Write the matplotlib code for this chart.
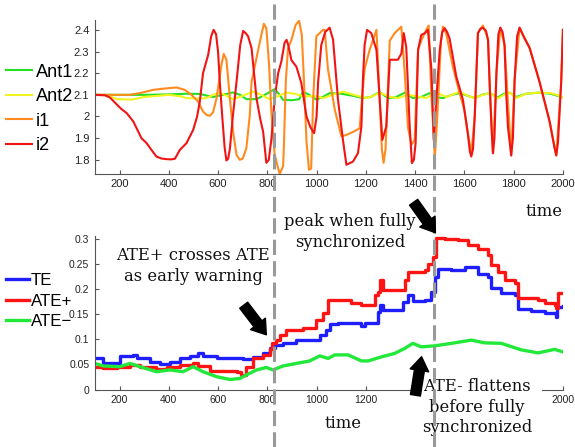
import matplotlib
matplotlib.use('agg')
import matplotlib.pyplot as plt
import matplotlib.ticker as mticker
import matplotlib.transforms as mtransforms
from matplotlib.lines import Line2D
from matplotlib.patches import FancyArrowPatch

plt.rcParams['font.family'] = ['Liberation Sans', 'DejaVu Sans']

# ---- top panel: oscillator signals ----
t_i2 = [100, 140, 161, 185, 208, 229, 256, 289, 310, 330, 350, 370, 391, 410, 425, 445, 472, 499,
        515, 526, 539, 560, 572, 582, 592, 600, 607, 617, 627, 634, 641, 648, 660, 675, 690, 702,
        712, 722, 736, 756, 771, 783, 796, 806, 817, 830, 844, 857, 870, 878, 885, 898, 918, 938,
        959, 975, 990, 1000, 1006, 1019, 1035, 1053, 1067, 1087, 1107, 1121, 1135, 1148, 1168,
        1182, 1188, 1195, 1205, 1222, 1243, 1256, 1267, 1283, 1297, 1330, 1344, 1354, 1364, 1378,
        1387, 1395, 1402, 1412, 1425, 1440, 1452, 1466, 1476, 1486, 1500, 1510, 1520, 1530, 1540,
        1567, 1594, 1614, 1622, 1628, 1635, 1642, 1655, 1665, 1675, 1688, 1696, 1703, 1710, 1716,
        1722, 1730, 1738, 1746, 1755, 1763, 1770, 1777, 1790, 1797, 1804, 1814, 1824, 1840, 1865,
        1905, 1946, 1965, 1973, 1980, 1993, 2000]
i2 = [2.100, 2.098, 2.088, 2.060, 2.034, 2.016, 1.977, 1.900, 1.877, 1.845, 1.815, 1.806, 1.803,
      1.802, 1.805, 1.846, 1.877, 1.938, 2.000, 2.069, 2.200, 2.285, 2.370, 2.400, 2.380, 2.300,
      2.160, 2.000, 1.854, 1.797, 1.805, 1.850, 2.000, 2.160, 2.330, 2.395, 2.385, 2.370, 2.316,
      2.085, 1.990, 1.930, 1.786, 1.800, 1.900, 2.085, 2.200, 2.254, 2.340, 2.354, 2.330, 2.260,
      2.230, 2.155, 2.000, 1.950, 1.923, 2.000, 2.155, 2.330, 2.390, 2.410, 2.354, 2.077, 1.892,
      1.777, 1.785, 1.792, 1.831, 1.954, 2.170, 2.330, 2.400, 2.385, 2.308, 2.080, 1.892, 1.954,
      2.262, 2.262, 2.290, 2.385, 2.320, 1.954, 1.785, 1.800, 1.877, 2.308, 2.377, 2.385, 2.400,
      2.220, 1.892, 2.080, 2.308, 2.390, 2.408, 2.390, 2.360, 2.185, 2.077, 1.923, 1.840, 1.815,
      1.850, 2.000, 2.385, 2.405, 2.410, 2.395, 2.350, 2.138, 1.950, 1.830, 1.900, 2.200, 2.380,
      2.410, 2.390, 2.330, 2.100, 1.950, 1.820, 1.900, 2.170, 2.370, 2.410, 2.370, 2.316, 2.160,
      1.977, 1.860, 1.820, 1.880, 2.160, 2.400]

t_i1 = [100, 200, 242, 283, 337, 391, 431, 465, 492, 519, 539, 555, 567, 580, 594, 614, 623, 634,
        648, 661, 675, 688, 700, 715, 729, 736, 756, 776, 786, 796, 807, 817, 830, 850, 864, 867,
        875, 884, 898, 915, 929, 940, 949, 959, 969, 978, 986, 999, 1026, 1033, 1046, 1074, 1101,
        1121, 1150, 1175, 1182, 1195, 1216, 1243, 1256, 1265, 1272, 1280, 1297, 1317, 1344, 1358,
        1371, 1385, 1398, 1412, 1425, 1445, 1455, 1466, 1480, 1490, 1505, 1513, 1527, 1553, 1580,
        1600, 1614, 1628, 1642, 1655, 1675, 1696, 1703, 1716, 1730, 1746, 1763, 1790, 1804, 1824,
        1865, 1905, 1946, 1973, 1993, 2000]
i1 = [2.100, 2.100, 2.100, 2.108, 2.123, 2.130, 2.134, 2.123, 2.100, 2.069, 2.023, 2.006, 2.003,
      2.020, 2.085, 2.240, 2.289, 2.262, 2.085, 1.930, 1.823, 1.800, 1.805, 1.854, 2.008, 2.160,
      2.270, 2.377, 2.428, 2.408, 2.240, 2.008, 1.823, 1.735, 1.770, 1.854, 2.160, 2.316, 2.354,
      2.423, 2.442, 2.377, 2.160, 1.885, 1.754, 1.760, 2.077, 2.370, 2.400, 2.400, 2.220, 2.031,
      1.908, 1.915, 1.930, 1.946, 2.050, 2.220, 2.310, 2.400, 2.080, 1.850, 1.786, 1.850, 2.350,
      2.385, 2.415, 2.200, 1.950, 1.869, 1.892, 2.310, 2.350, 2.400, 2.420, 2.100, 1.808, 2.000,
      2.350, 2.415, 2.380, 2.230, 2.110, 2.030, 1.920, 1.830, 2.000, 2.385, 2.420, 2.360, 2.138,
      1.830, 2.200, 2.410, 2.330, 1.820, 2.170, 2.410, 2.316, 2.160, 1.977, 1.820, 2.160, 2.400]

t_ant1 = [100, 200, 300, 400, 470, 526, 560, 580, 620, 660, 690, 715, 756, 790, 830, 850, 864, 900,
          930, 945, 970, 999, 1025, 1053, 1100, 1150, 1188, 1220, 1256, 1290, 1320, 1358, 1391,
          1425, 1459, 1480, 1513, 1550, 1581, 1615, 1642, 1670, 1703, 1736, 1760, 1784, 1811,
          1850, 1900, 1950, 1980, 2000]
ant1 = [2.100, 2.100, 2.100, 2.102, 2.105, 2.104, 2.095, 2.090, 2.100, 2.111, 2.100, 2.080, 2.080,
        2.100, 2.126, 2.100, 2.077, 2.075, 2.080, 2.115, 2.100, 2.078, 2.090, 2.108, 2.105, 2.095,
        2.085, 2.090, 2.113, 2.085, 2.088, 2.110, 2.085, 2.090, 2.108, 2.090, 2.085, 2.100, 2.108,
        2.095, 2.085, 2.100, 2.108, 2.088, 2.105, 2.110, 2.090, 2.105, 2.110, 2.105, 2.095, 2.088]

t_ant2 = [100, 150, 190, 250, 300, 350, 400, 450, 472, 520, 553, 580, 607, 635, 660, 700, 742, 775,
          810, 845, 878, 910, 952, 990, 1026, 1065, 1107, 1150, 1202, 1230, 1256, 1300, 1330, 1370,
          1400, 1445, 1486, 1527, 1560, 1581, 1615, 1642, 1675, 1703, 1736, 1760, 1784, 1811, 1850,
          1900, 1950, 1980, 2000]
ant2 = [2.100, 2.098, 2.080, 2.078, 2.090, 2.095, 2.100, 2.093, 2.085, 2.083, 2.085, 2.100, 2.111,
        2.095, 2.080, 2.095, 2.115, 2.100, 2.080, 2.095, 2.110, 2.105, 2.092, 2.095, 2.085, 2.100,
        2.115, 2.100, 2.085, 2.095, 2.110, 2.090, 2.085, 2.100, 2.095, 2.085, 2.110, 2.090, 2.105,
        2.115, 2.095, 2.085, 2.100, 2.108, 2.083, 2.100, 2.110, 2.085, 2.105, 2.110, 2.108, 2.098,
        2.088]

# ---- bottom panel: transfer entropy ----
t_te = [100, 134, 174, 201, 256, 269, 323, 364, 404, 445, 485, 519, 539, 594, 648, 702, 742, 783,
        810, 830, 864, 918, 972, 1013, 1040, 1053, 1087, 1141, 1182, 1195, 1249, 1256, 1270, 1331,
        1351, 1371, 1391, 1439, 1466, 1479, 1493, 1547, 1601, 1655, 1696, 1709, 1750, 1804, 1817,
        1872, 1926, 1973, 1977, 2000]
te = [0.0635, 0.0535, 0.0535, 0.067, 0.069, 0.062, 0.055, 0.051, 0.054, 0.062, 0.067, 0.072, 0.067,
      0.063, 0.062, 0.061, 0.065, 0.072, 0.082, 0.089, 0.092, 0.099, 0.099, 0.109, 0.119, 0.130,
      0.132, 0.132, 0.127, 0.133, 0.155, 0.168, 0.158, 0.158, 0.175, 0.188, 0.177, 0.178, 0.195,
      0.225, 0.241, 0.239, 0.245, 0.231, 0.225, 0.202, 0.192, 0.188, 0.160, 0.157, 0.152, 0.144,
      0.165, 0.166]

t_atep = [100, 134, 188, 242, 283, 350, 391, 445, 499, 519, 567, 621, 675, 695, 715, 742, 783, 810,
          821, 837, 850, 877, 945, 999, 1026, 1047, 1101, 1141, 1182, 1236, 1249, 1256, 1270, 1344,
          1358, 1371, 1439, 1452, 1473, 1486, 1520, 1574, 1614, 1655, 1696, 1709, 1736, 1763, 1804,
          1817, 1899, 1926, 1966, 1973, 1980, 2000]
ate_plus = [0.0455, 0.042, 0.044, 0.049, 0.0455, 0.040, 0.0455, 0.049, 0.052, 0.047, 0.0375, 0.037,
            0.0355, 0.029, 0.0455, 0.062, 0.069, 0.080, 0.092, 0.0985, 0.109, 0.119, 0.122, 0.139,
            0.152, 0.178, 0.178, 0.172, 0.168, 0.188, 0.195, 0.218, 0.198, 0.198, 0.218, 0.235,
            0.238, 0.251, 0.265, 0.303, 0.301, 0.298, 0.288, 0.281, 0.268, 0.248, 0.235, 0.218,
            0.212, 0.182, 0.178, 0.173, 0.168, 0.162, 0.192, 0.192]

t_atem = [100, 134, 201, 242, 283, 350, 404, 458, 499, 539, 594, 648, 688, 715, 756, 796, 823, 864,
          918, 972, 1013, 1047, 1074, 1128, 1182, 1209, 1263, 1317, 1358, 1391, 1425, 1479, 1547,
          1628, 1682, 1750, 1831, 1899, 1966, 2000]
ate_minus = [0.052, 0.047, 0.0455, 0.052, 0.0455, 0.0355, 0.039, 0.0355, 0.0455, 0.0355, 0.0256,
             0.020, 0.022, 0.029, 0.039, 0.044, 0.039, 0.047, 0.052, 0.057, 0.067, 0.062, 0.069,
             0.069, 0.057, 0.057, 0.065, 0.072, 0.082, 0.092, 0.085, 0.087, 0.092, 0.0985, 0.093,
             0.092, 0.079, 0.073, 0.080, 0.075]

sync_events = [826, 1475]
x_ticks = list(range(200, 2001, 200))
# the bottom panel's 1400-1800 labels sit under the "ATE- flattens" note
x_labels_bottom = ['200', '400', '600', '800', '1000', '1200', '', '', '', '2000']

W, H = 575, 447
fig = plt.figure(figsize=(W / 100, H / 100), dpi=100)


def px(x, y):
    # pixel position (from top-left) -> figure fraction
    return x / W, 1 - y / H


ax1 = fig.add_axes([0.165, 0.611, 0.814, 0.344])
ax2 = fig.add_axes([0.165, 0.1286, 0.814, 0.3434])

ax1.plot(t_ant1, ant1, color='#22e022', lw=1.5, label='Ant1')
ax1.plot(t_ant2, ant2, color='#f2f21e', lw=1.5, label='Ant2')
ax1.plot(t_i1, i1, color='#ff8a1e', lw=1.5, label='i1')
ax1.plot(t_i2, i2, color='#f01414', lw=1.5, label='i2')
ax1.set_xlim(100, 2000)
ax1.set_ylim(1.735, 2.445)
ax1.set_xticks(x_ticks)
ax1.set_yticks([1.8, 1.9, 2.0, 2.1, 2.2, 2.3, 2.4])
ax1.yaxis.set_major_formatter(mticker.FormatStrFormatter('%g'))

ax2.plot(t_te, te, color='#1e1eff', lw=2.4, drawstyle='steps-post', label='TE')
ax2.plot(t_atep, ate_plus, color='#ff1414', lw=2.4, drawstyle='steps-post', label='ATE+')
ax2.plot(t_atem, ate_minus, color='#22e83a', lw=2.4, label='ATE\u2212')
ax2.set_xlim(100, 2000)
ax2.set_ylim(0, 0.306)
ax2.set_xticks(x_ticks, x_labels_bottom)
ax2.set_yticks([0, 0.05, 0.1, 0.15, 0.2, 0.25, 0.3])
ax2.yaxis.set_major_formatter(mticker.FormatStrFormatter('%g'))

for ax, fs in ((ax1, 8), (ax2, 7.5)):
    for s in ('top', 'right'):
        ax.spines[s].set_visible(False)
    for s in ('left', 'bottom'):
        ax.spines[s].set_color('#555555')
        ax.spines[s].set_linewidth(0.8)
    ax.tick_params(direction='in', length=3, width=0.8, color='#555555',
                   labelsize=fs, labelcolor='#222222', pad=4)

serif = dict(family='DejaVu Serif', fontsize=11.8, color='#111111')
ax1.set_xlabel('time', ha='right', **serif)
ax1.xaxis.set_label_coords(1.0, -0.19)
ax2.set_xlabel('time', **serif)
ax2.xaxis.set_label_coords(0.53, -0.165)

ax1.legend(loc='center left', bbox_to_anchor=px(6, 109), bbox_transform=fig.transFigure,
           frameon=False, fontsize=13.1, handlelength=1.45, handletextpad=0.2,
           labelspacing=0.42, borderpad=0, borderaxespad=0)
ax2.legend(loc='center left', bbox_to_anchor=px(6, 301), bbox_transform=fig.transFigure,
           frameon=False, fontsize=12.2, handlelength=1.35, handletextpad=0.1,
           labelspacing=0.32, borderpad=0, borderaxespad=0)

# annotations
fig.text(*px(193, 266), 'ATE+ crosses ATE\nas early warning', ha='center', va='center',
         linespacing=1.25, **serif)
fig.text(*px(350, 232), 'peak when fully\nsynchronized', ha='center', va='center',
         linespacing=1.25, **serif)
fig.text(*px(477, 407), 'ATE- flattens\nbefore fully\nsynchronized', ha='center', va='center',
         linespacing=1.25, zorder=3,
         bbox=dict(boxstyle='square,pad=0.6', fc='white', ec='none'), **serif)

# dashed lines marking synchronization events, across both panels
trans = mtransforms.blended_transform_factory(ax1.transData, fig.transFigure)
for tx in sync_events:
    fig.add_artist(Line2D([tx, tx], [0, 0.993], transform=trans, color='#999999',
                          lw=2.2, dashes=(5, 2), zorder=4))

for tail, head in (((242, 303), (268, 337)), ((412, 200), (437, 235)),
                   ((415, 398), (422, 354))):
    fig.add_artist(FancyArrowPatch(px(*tail), px(*head), transform=fig.transFigure,
                                   arrowstyle='simple,head_length=0.55,head_width=0.75,tail_width=0.4',
                                   mutation_scale=18, color='black', zorder=5))

fig.savefig('out.png', dpi=100)
